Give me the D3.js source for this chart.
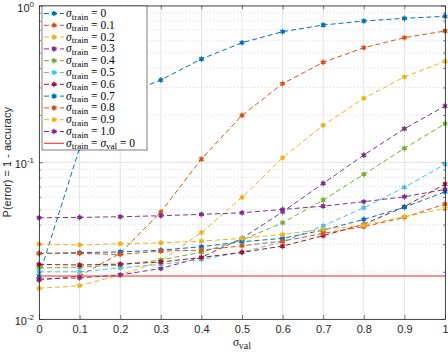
<!DOCTYPE html>
<html>
<head>
<meta charset="utf-8">
<script src="https://cdn.jsdelivr.net/npm/d3@7"></script>
<style>
  body { margin: 0; background: #fff; }
</style>
</head>
<body>
<svg id="chart"></svg>
<script>
// sigma used at validation time (x axis)
const sigmaVal = [0, 0.1, 0.2, 0.3, 0.4, 0.5, 0.6, 0.7, 0.8, 0.9, 1];
// sigma used at training time (one line each)
const sigmaTrain = ["0", "0.1", "0.2", "0.3", "0.4", "0.5", "0.6", "0.7", "0.8", "0.9", "1.0"];

// P(error)
const err00 = [0.0188, 0.1232, 0.2646, 0.3346, 0.4556, 0.5788, 0.6805, 0.7509, 0.7963, 0.8284, 0.8533];
const err01 = [0.0177, 0.0188, 0.0263, 0.0481, 0.1048, 0.1992, 0.3170, 0.4340, 0.5378, 0.6229, 0.6875];
const err02 = [0.0157, 0.0163, 0.0191, 0.0234, 0.0356, 0.0597, 0.1068, 0.1720, 0.2560, 0.3500, 0.4405];
const err03 = [0.0180, 0.0183, 0.0191, 0.0210, 0.0247, 0.0327, 0.0483, 0.0733, 0.1111, 0.1636, 0.2284];
const err04 = [0.0212, 0.0214, 0.0221, 0.0238, 0.0267, 0.0319, 0.0411, 0.0574, 0.0837, 0.1227, 0.1761];
const err05 = [0.0200, 0.0200, 0.0212, 0.0223, 0.0240, 0.0267, 0.0311, 0.0393, 0.0512, 0.0692, 0.0969];
const err06 = [0.0223, 0.0221, 0.0224, 0.0231, 0.0247, 0.0266, 0.0292, 0.0340, 0.0402, 0.0520, 0.0726];
const err07 = [0.0262, 0.0265, 0.0268, 0.0275, 0.0289, 0.0311, 0.0327, 0.0369, 0.0432, 0.0516, 0.0648];
const err08 = [0.0262, 0.0262, 0.0258, 0.0271, 0.0275, 0.0293, 0.0314, 0.0352, 0.0388, 0.0445, 0.0541];
const err09 = [0.0301, 0.0297, 0.0302, 0.0306, 0.0314, 0.0327, 0.0347, 0.0373, 0.0397, 0.0449, 0.0508];
const err10 = [0.0442, 0.0445, 0.0449, 0.0456, 0.0465, 0.0476, 0.0500, 0.0525, 0.0560, 0.0602, 0.0671];
// reference: trained and validated without noise
const errClean = 0.0188;

const xTicks = [0, 0.1, 0.2, 0.3, 0.4, 0.5, 0.6, 0.7, 0.8, 0.9, 1];
const xTickLabels = ["0", "0.1", "0.2", "0.3", "0.4", "0.5", "0.6", "0.7", "0.8", "0.9", "1"];
const yTicks = [0.01, 0.1, 1];
const yTickExp = ["-2", "-1", "0"];

const matlabColors = ["#0072BD", "#D95319", "#EDB120", "#7E2F8E", "#77AC30", "#4DBEEE", "#A2142F"];
const allErr = [err00, err01, err02, err03, err04, err05, err06, err07, err08, err09, err10];
const series = allErr.map((vals, i) => ({
  name: sigmaTrain[i],
  color: matlabColors[i % 7],
  points: vals.map((v, j) => ({ x: sigmaVal[j], y: v }))
}));

const width = 448, height = 352;
const margin = { top: 5.5, right: 3, bottom: 33, left: 39 };

const svg = d3.select("#chart")
  .attr("width", width)
  .attr("height", height)
  .style("font-family", "'Liberation Sans', Arial, sans-serif");

const x = d3.scaleLinear().domain([0, 1]).range([margin.left, width - margin.right]);
const y = d3.scaleLog().domain([0.01, 1]).range([height - margin.bottom, margin.top]);

const x0 = x(0), x1 = x(1), yb = y(0.01), yt = y(1);

// minor values on log axis
const minorY = [];
[0.01, 0.1].forEach(d => { for (let k = 2; k <= 9; k++) minorY.push(+(d * k).toPrecision(3)); });

// grid
const grid = svg.append("g");
grid.selectAll(".vg").data(xTicks).join("line")
  .attr("x1", d => x(d)).attr("x2", d => x(d))
  .attr("y1", yt).attr("y2", yb)
  .attr("stroke", "#e3e3e3").attr("stroke-width", 1);
grid.selectAll(".mg").data(minorY).join("line")
  .attr("x1", x0).attr("x2", x1)
  .attr("y1", d => y(d)).attr("y2", d => y(d))
  .attr("stroke", "#d4d4d4").attr("stroke-width", 0.8)
  .attr("stroke-dasharray", "1,2");
grid.selectAll(".hg").data(yTicks).join("line")
  .attr("x1", x0).attr("x2", x1)
  .attr("y1", d => y(d)).attr("y2", d => y(d))
  .attr("stroke", "#e3e3e3").attr("stroke-width", 1);

// lines + markers (matlab '*' drawn thick, so a blob with spikes)
const line = d3.line().x(d => x(d.x)).y(d => y(d.y));
const dot = d3.symbol().type(d3.symbolCircle).size(13);
const ast = d3.symbol().type(d3.symbolAsterisk).size(22);

function marker(g, cx, cy, color) {
  g.append("path").attr("d", dot)
    .attr("transform", `translate(${cx},${cy})`)
    .attr("fill", color);
  g.append("path").attr("d", ast)
    .attr("transform", `translate(${cx},${cy})`)
    .attr("fill", "none").attr("stroke", color).attr("stroke-width", 1.1);
}

series.forEach(s => {
  const g = svg.append("g");
  g.append("path")
    .datum(s.points)
    .attr("d", line)
    .attr("fill", "none")
    .attr("stroke", s.color)
    .attr("stroke-width", 1)
    .attr("stroke-dasharray", "5,3");
  s.points.forEach(d => marker(g, x(d.x), y(d.y), s.color));
});

// clean reference line
svg.append("line")
  .attr("x1", x0).attr("x2", x1)
  .attr("y1", y(errClean)).attr("y2", y(errClean))
  .attr("stroke", "#ff2020").attr("stroke-width", 1);

// axes (box with inward ticks, like matlab)
const axisColor = "#262626";
const bottomAxis = svg.append("g").attr("transform", `translate(0,${yb})`)
  .call(d3.axisBottom(x).tickValues(xTicks).tickSize(-4).tickSizeOuter(0).tickFormat((d, i) => xTickLabels[i]));
const topAxis = svg.append("g").attr("transform", `translate(0,${yt})`)
  .call(d3.axisTop(x).tickValues(xTicks).tickSize(-4).tickSizeOuter(0).tickFormat(""));
const leftAxis = svg.append("g").attr("transform", `translate(${x0},0)`)
  .call(d3.axisLeft(y).tickValues(yTicks).tickSize(-4).tickSizeOuter(0).tickFormat(""));
const rightAxis = svg.append("g").attr("transform", `translate(${x1},0)`)
  .call(d3.axisRight(y).tickValues(yTicks).tickSize(-4).tickSizeOuter(0).tickFormat(""));
const leftMinor = svg.append("g").attr("transform", `translate(${x0},0)`)
  .call(d3.axisLeft(y).tickValues(minorY).tickSize(-2).tickSizeOuter(0).tickFormat(""));
const rightMinor = svg.append("g").attr("transform", `translate(${x1},0)`)
  .call(d3.axisRight(y).tickValues(minorY).tickSize(-2).tickSizeOuter(0).tickFormat(""));

[bottomAxis, topAxis, leftAxis, rightAxis, leftMinor, rightMinor].forEach(a => {
  a.selectAll(".domain").attr("stroke", axisColor).attr("stroke-width", 0.8);
  a.selectAll(".tick line").attr("stroke", axisColor).attr("stroke-width", 0.6);
});
leftMinor.select(".domain").remove();
rightMinor.select(".domain").remove();
bottomAxis.selectAll(".tick text")
  .attr("y", 6)
  .attr("fill", axisColor)
  .style("font-size", "11px")
  .style("font-family", "'Liberation Sans', Arial, sans-serif");

// y tick labels 10^k
svg.selectAll(".ylab").data(yTicks).join("text")
  .attr("x", x0 - 5)
  .attr("y", d => y(d) + 6)
  .attr("text-anchor", "end")
  .attr("fill", axisColor)
  .style("font-size", "11px")
  .each(function (d, i) {
    const t = d3.select(this);
    t.append("tspan").text("10");
    t.append("tspan").attr("dy", -5).style("font-size", "8px").text(yTickExp[i]);
  });

// axis titles
svg.append("text")
  .attr("transform", `translate(11,${(yt + yb) / 2}) rotate(-90)`)
  .attr("text-anchor", "middle")
  .attr("fill", axisColor)
  .style("font-size", "11px")
  .text("P(error) = 1 - accuracy");

const xl = svg.append("text")
  .attr("x", (x0 + x1) / 2)
  .attr("y", 345.5)
  .attr("text-anchor", "middle")
  .attr("fill", axisColor)
  .style("font-family", "'Liberation Serif', 'DejaVu Serif', serif");
xl.append("tspan").style("font-style", "italic").style("font-size", "12px").text("σ");
xl.append("tspan").attr("dy", 3.5).style("font-size", "10px").text("val");

// legend
const legX = 42, legY = 6, legW = 105, legH = 144, rowH = 11.8;
const leg = svg.append("g");
leg.append("rect")
  .attr("x", legX).attr("y", legY).attr("width", legW).attr("height", legH)
  .attr("fill", "#fff").attr("stroke", axisColor).attr("stroke-width", 0.6);

const legItems = series.map(s => ({ color: s.color, label: s.name, dashed: true }))
  .concat([{ color: "#ff2020", label: null, dashed: false }]);

legItems.forEach((d, i) => {
  const cy = legY + 7.5 + i * rowH;
  const g = leg.append("g");
  g.append("line")
    .attr("x1", legX + 2).attr("x2", legX + 22)
    .attr("y1", cy).attr("y2", cy)
    .attr("stroke", d.color).attr("stroke-width", 1)
    .attr("stroke-dasharray", d.dashed ? "5,3" : null);
  if (d.dashed) marker(g, legX + 12, cy, d.color);
  const t = g.append("text")
    .attr("x", legX + 24)
    .attr("y", cy + 3.5)
    .attr("fill", "#000")
    .style("font-family", "'Liberation Serif', 'DejaVu Serif', serif")
    .style("font-size", "11.5px");
  t.append("tspan").style("font-style", "italic").text("σ");
  t.append("tspan").attr("dy", 2.5).style("font-size", "9px").text("train");
  if (d.label !== null) {
    t.append("tspan").attr("dy", -2.5).text(" = " + d.label);
  } else {
    t.append("tspan").attr("dy", -2.5).text(" = ");
    t.append("tspan").style("font-style", "italic").text("σ");
    t.append("tspan").attr("dy", 2.5).style("font-size", "9px").text("val");
    t.append("tspan").attr("dy", -2.5).text(" = 0");
  }
});
</script>
</body>
</html>
